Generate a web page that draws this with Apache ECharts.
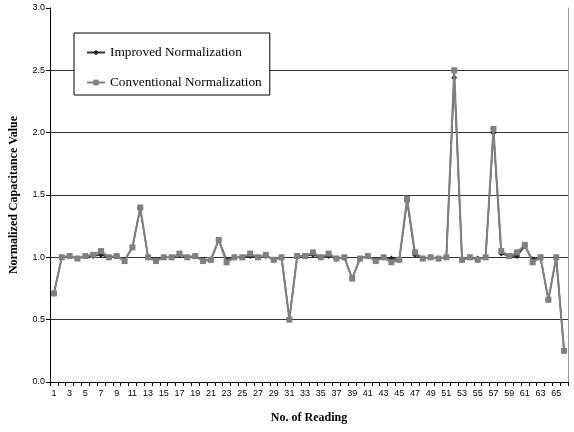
<!DOCTYPE html>
<html>
<head>
<meta charset="utf-8">
<script src="https://cdn.jsdelivr.net/npm/echarts@6/dist/echarts.min.js"></script>
<style>html,body{margin:0;padding:0;background:#fff;}#c{width:574px;height:432px;}</style>
</head>
<body>
<div id="c"></div>
<script>
const readings = Array.from({length: 66}, (_, i) => String(i + 1));
const yTicks = ['0.0','0.5','1.0','1.5','2.0','2.5','3.0'];
const conventional = [
  0.71, 1.00, 1.01, 0.99, 1.01, 1.02, 1.05, 1.00, 1.01, 0.97,
  1.08, 1.40, 1.00, 0.97, 1.00, 1.00, 1.03, 1.00, 1.01, 0.97,
  0.98, 1.14, 0.96, 1.00, 1.00, 1.03, 1.00, 1.02, 0.98, 1.00,
  0.50, 1.01, 1.01, 1.04, 1.00, 1.03, 0.99, 1.00, 0.83, 0.99,
  1.01, 0.97, 1.00, 0.96, 0.98, 1.47, 1.04, 0.99, 1.00, 0.99,
  1.00, 2.50, 0.98, 1.00, 0.98, 1.00, 2.03, 1.05, 1.01, 1.04,
  1.10, 0.96, 1.00, 0.66, 1.00, 0.25
];
const improved = [
  0.71, 1.00, 1.01, 0.99, 1.01, 1.01, 1.02, 1.00, 1.01, 0.98,
  1.08, 1.39, 1.00, 0.98, 1.00, 1.00, 1.02, 1.00, 1.01, 0.98,
  0.98, 1.14, 0.98, 1.00, 1.00, 1.01, 1.00, 1.01, 0.98, 1.00,
  0.51, 1.01, 1.01, 1.02, 1.00, 1.01, 0.99, 1.00, 0.83, 0.99,
  1.01, 0.98, 1.00, 0.99, 0.98, 1.45, 1.02, 0.99, 1.00, 0.99,
  1.00, 2.44, 0.98, 1.00, 0.99, 1.00, 2.00, 1.03, 1.01, 1.01,
  1.09, 0.98, 1.00, 0.66, 1.00, 0.25
];

const chart = echarts.init(document.getElementById('c'), null, {renderer: 'canvas'});
chart.setOption({
  animation: false,
  backgroundColor: '#fff',
  grid: {left: 50, right: 6, top: 8, bottom: 50},
  legend: {
    orient: 'vertical',
    left: 74, top: 33,
    padding: [13, 8, 6, 12],
    itemGap: 17,
    itemWidth: 18, itemHeight: 7,
    backgroundColor: '#fff',
    borderColor: '#000', borderWidth: 1,
    textStyle: {fontFamily: 'Liberation Serif', fontSize: 13.3, color: '#000'},
    data: ['Improved Normalization', 'Conventional Normalization']
  },
  xAxis: {
    type: 'category',
    data: readings,
    boundaryGap: true,
    name: 'No. of Reading',
    nameLocation: 'middle',
    nameGap: 30,
    nameTextStyle: {fontFamily: 'Liberation Serif', fontWeight: 'bold', fontSize: 12, color: '#000'},
    axisLine: {lineStyle: {color: '#000', width: 1}},
    axisTick: {show: true, interval: 0, length: 4, lineStyle: {color: '#000'}},
    axisLabel: {interval: 1, margin: 7, fontFamily: 'Liberation Sans', fontSize: 9, color: '#000'},
    splitLine: {show: false}
  },
  yAxis: [{
    type: 'value',
    min: 0, max: 3, interval: 0.5,
    name: 'Normalized Capacitance Value',
    nameLocation: 'middle',
    nameGap: 30,
    nameTextStyle: {fontFamily: 'Liberation Serif', fontWeight: 'bold', fontSize: 12, color: '#000'},
    axisLine: {show: true, lineStyle: {color: '#000', width: 1}},
    axisTick: {show: true, length: 4, lineStyle: {color: '#000'}},
    axisLabel: {margin: 5, fontFamily: 'Liberation Sans', fontSize: 9, color: '#000',
      formatter: v => yTicks[Math.round(v / 0.5)]},
    splitLine: {show: true, lineStyle: {color: ['#000','#333','#333','#333','#333','#333','transparent'], width: 1}}
  }, {
    type: 'value',
    position: 'right',
    min: 0, max: 3, interval: 0.5,
    axisLine: {show: true, lineStyle: {color: '#999', width: 1}},
    axisTick: {show: false},
    axisLabel: {show: false},
    splitLine: {show: false}
  }],
  series: [{
    name: 'Improved Normalization',
    type: 'line',
    data: improved,
    symbol: 'diamond',
    symbolSize: 6,
    showAllSymbol: true,
    lineStyle: {color: '#333', width: 1.5},
    itemStyle: {color: '#222'},
    z: 2
  }, {
    name: 'Conventional Normalization',
    type: 'line',
    data: conventional,
    symbol: 'rect',
    symbolSize: 6,
    showAllSymbol: true,
    lineStyle: {color: '#808080', width: 2},
    itemStyle: {color: '#808080'},
    z: 3
  }]
});
</script>
</body>
</html>
